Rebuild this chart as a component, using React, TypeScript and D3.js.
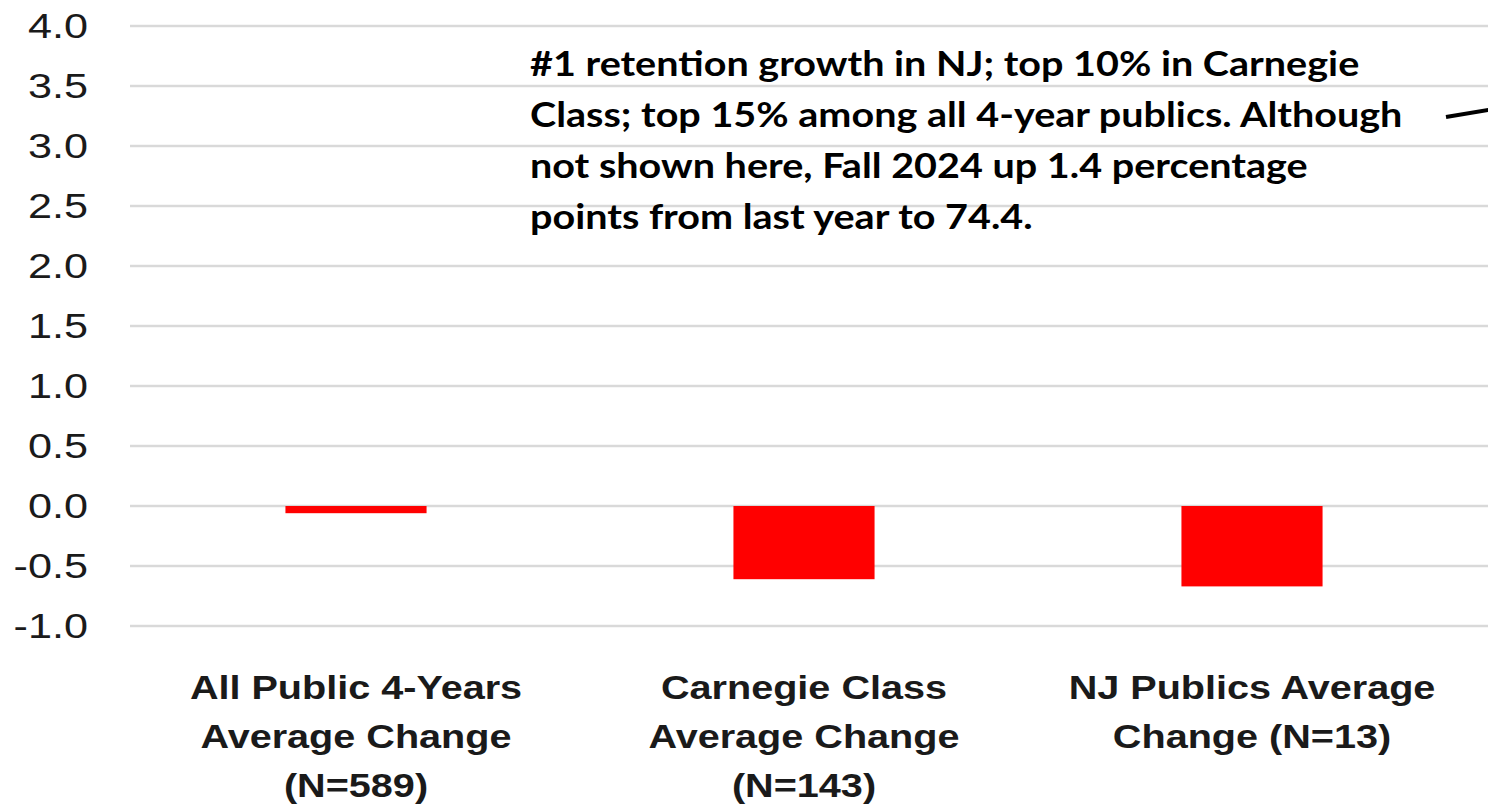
import React from "react";
import * as d3 from "d3";

const categories = ["All Public 4-Years", "Carnegie Class", "NJ Publics"];
const categoryLabels: string[][] = [
  ["All Public 4-Years", "Average Change", "(N=589)"],
  ["Carnegie Class", "Average Change", "(N=143)"],
  ["NJ Publics Average", "Change (N=13)"],
];
const values = [-0.06, -0.61, -0.67];
const yTicks = [-1.0, -0.5, 0.0, 0.5, 1.0, 1.5, 2.0, 2.5, 3.0, 3.5, 4.0];
const annotationLines = [
  "#1 retention growth in NJ; top 10% in Carnegie",
  "Class; top 15% among all 4-year publics. Although",
  "not shown here, Fall 2024 up 1.4 percentage",
  "points from last year to 74.4.",
];

const W = 1488;
const H = 811;
const SX = 1.2; // horizontal stretch of the source image text
const SA = 1.13; // horizontal stretch for annotation text

export default function App() {
  const y = d3.scaleLinear().domain([-1, 4]).range([626, 26]);
  const x = d3
    .scaleBand<string>()
    .domain(categories)
    .range([132, 1476])
    .paddingInner(0.685)
    .paddingOuter(0.3425);

  return (
    <div style={{ position: "fixed", left: 0, top: 0, background: "#fff" }}>
      <svg width={W} height={H} style={{ display: "block" }}>
        <rect x={0} y={0} width={W} height={H} fill="#fff" />
        {yTicks.map((t) => (
          <line
            key={"g" + t}
            x1={130}
            x2={W}
            y1={y(t)}
            y2={y(t)}
            stroke="#d9d9d9"
            strokeWidth={2.5}
          />
        ))}
        {yTicks.map((t) => (
          <g key={"t" + t} transform={`translate(88,${y(t) + 12}) scale(${SX},1)`}>
            <text
              x={0}
              y={0}
              textAnchor="end"
              fontFamily="'Liberation Sans', Arial, sans-serif"
              fontSize={36}
              fill="#1a1a1a"
            >
              {d3.format(".1f")(t).replace("−", "-")}
            </text>
          </g>
        ))}
        {categories.map((c, i) => {
          const v = values[i];
          const y0 = y(0);
          const y1 = y(v);
          return (
            <rect
              key={c}
              x={x(c)}
              y={Math.min(y0, y1)}
              width={x.bandwidth()}
              height={Math.abs(y1 - y0)}
              fill="#ff0000"
            />
          );
        })}
        {categories.map((c, i) => (
          <g key={"l" + c}>
            {categoryLabels[i].map((ln, j) => (
              <g
                key={j}
                transform={`translate(${(x(c) ?? 0) + x.bandwidth() / 2},${699 + j * 49}) scale(${SX},1)`}
              >
                <text
                  x={0}
                  y={0}
                  textAnchor="middle"
                  fontFamily="'Liberation Sans', Arial, sans-serif"
                  fontWeight="bold"
                  fontSize={33}
                  fill="#1a1a1a"
                >
                  {ln}
                </text>
              </g>
            ))}
          </g>
        ))}
        {annotationLines.map((ln, j) => (
          <g key={"a" + j} transform={`translate(530,${76 + j * 51}) scale(${SA},1)`}>
            <text
              x={0}
              y={0}
              fontFamily="Lato, 'Open Sans', sans-serif"
              fontWeight="bold"
              fontSize={35}
              fill="#000"
            >
              {ln}
            </text>
          </g>
        ))}
        <line x1={1446} y1={117} x2={1500} y2={108} stroke="#000" strokeWidth={4} />
      </svg>
    </div>
  );
}
